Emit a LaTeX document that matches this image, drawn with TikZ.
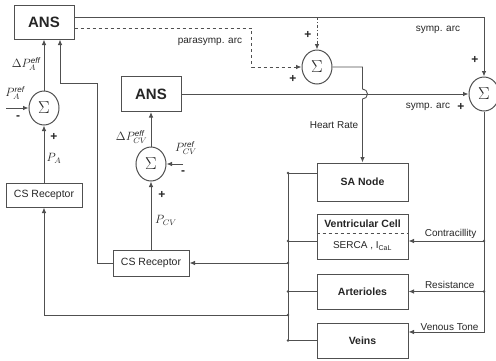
\documentclass[tikz,border=0pt]{standalone}
\usepackage{fontspec}
\setmainfont{Liberation Sans}
\usepackage{tikz}
\usetikzlibrary{positioning, arrows.meta, shapes.geometric, calc}
\definecolor{linegray}{RGB}{80,80,80}

\begin{document}
\begin{tikzpicture}[
  x=1pt, y=-1pt,
  every node/.style={font=\fontsize{10.5}{12}\selectfont, text=black!85},
  block/.style={draw=linegray, line width=1pt, fill=white, align=center, inner sep=0pt},
  bold/.style={font=\bfseries\fontsize{10.5}{12}\selectfont},
  sumnode/.style={draw=linegray, line width=1pt, ellipse, fill=white,
    minimum width=30pt, minimum height=34pt, inner sep=0pt, font=\fontsize{18}{18}\selectfont},
  conn/.style={draw=linegray, line width=0.9pt},
  arrow/.style={conn, -{Latex[length=5.5pt,width=4.5pt]}},
  junc/.style={circle, fill=linegray, inner sep=0pt, minimum size=2.8pt},
  sign/.style={font=\bfseries\fontsize{12}{12}\selectfont, inner sep=0pt},
  lbl/.style={font=\fontsize{10}{12}\selectfont},
  mlbl/.style={font=\fontsize{11.5}{12}\selectfont, inner sep=0.5pt},
]
\useasboundingbox (0,0) rectangle (496,360);

% ANS blocks
\node[block, minimum width=60pt, minimum height=34pt, font=\bfseries\fontsize{15}{16}\selectfont] (ans1) at (44,22) {ANS};
\node[block, minimum width=60pt, minimum height=35pt, font=\bfseries\fontsize{15}{16}\selectfont] (ans2) at (151,94) {ANS};

% Summing junctions
\node[sumnode] (sumA) at (44,108) {$\Sigma$};
\node[sumnode] (sumCV) at (151,164) {$\Sigma$};
\node[sumnode] (sumHR) at (317,67) {$\Sigma$};
\node[sumnode] (sumS) at (484,94) {$\Sigma$};

% Receptors
\node[block, minimum width=76pt, minimum height=24pt] (csr1) at (44,195) {CS Receptor};
\node[block, minimum width=76pt, minimum height=26pt] (csr2) at (151,263) {CS Receptor};

% Effector blocks
\node[block, bold, minimum width=91pt, minimum height=38pt] (sa) at (362.5,182) {SA Node};
\node[block, minimum width=91pt, minimum height=45pt, below=12pt of sa] (vc) {};
\node[block, bold, minimum width=91pt, minimum height=35pt, below=14pt of vc] (art) {Arterioles};
\node[block, bold, minimum width=91pt, minimum height=35pt, below=13pt of art] (veins) {Veins};
\draw[conn, dashed] ([yshift=3.5pt]vc.west) -- ([yshift=3.5pt]vc.east);
\node[bold] at ([yshift=13pt]vc.center) {Ventricular Cell};
\node[font=\fontsize{10}{12}\selectfont] at ([yshift=-9.5pt]vc.center) {SERCA , I\textsubscript{CaL}};

% Coordinates
\coordinate (symTop) at ([yshift=5pt]ans1.east);
\coordinate (bus) at (288,0);
\coordinate (saIn) at ([yshift=9pt]sa.west);
\coordinate (vcIn) at ([yshift=-4.5pt]vc.west);
\coordinate (vcCtl) at ([yshift=-4.5pt]vc.east);
\coordinate (vnIn) at ([yshift=8.5pt]veins.east);
\coordinate (fbA) at (288,315);
\coordinate (fbB) at (97,83);
\coordinate (jmp) at (sa.north |- ans2.east);
\coordinate (pAref) at (6,108);
\coordinate (pCVref) at (183,164);

% Sympathetic / parasympathetic arcs
\draw[arrow] (symTop) -| (sumS.north);
\draw[arrow, dash dot] (sumHR.north |- symTop) -- (sumHR.north);
\draw[arrow, dashed] ([yshift=-6pt]ans1.east) -- ++(177,0) |- (sumHR.west);
\draw[arrow] (ans2.east) -- (sumS.west);
\draw[arrow] (sumHR.east) -- (sa.north |- sumHR.east) -- ([yshift=5pt]jmp)
  arc[start angle=90, end angle=-90, radius=5pt] -- (sa.north);

% Effector control lines
\draw[arrow] (sumS.south) |- (vnIn);
\draw[arrow] (sumS.south |- vcCtl) -- (vcCtl);
\draw[arrow] (sumS.south |- art.east) -- (art.east);
\node[junc] at (sumS.south |- vcCtl) {};
\node[junc] at (sumS.south |- art.east) {};

% Output bus
\draw[conn] (bus |- saIn) -- (bus |- veins.west);
\draw[conn] (bus |- saIn) -- (saIn);
\draw[conn] (bus |- vcIn) -- (vcIn);
\draw[conn] (bus |- art.west) -- (art.west);
\draw[conn] (bus |- veins.west) -- (veins.west);
\draw[arrow] (bus |- csr2.east) -- (csr2.east);
\draw[arrow] (fbA) -| (csr1.south);
\foreach \p in {saIn, vcIn, art.west, veins.west, csr2.east, fbA}
  \node[junc] at (bus |- \p) {};

% Baroreflex loops
\draw[arrow] (csr1.north) -- (sumA.south);
\draw[arrow] (sumA.north) -- (sumA.north |- ans1.south);
\draw[arrow] (pAref) -- (sumA.west);
\draw[arrow] (csr2.north) -- (sumCV.south);
\draw[arrow] (sumCV.north) -- (ans2.south);
\draw[arrow] (pCVref) -- (sumCV.east);
\draw[arrow] (csr2.west) -| (fbB) -| ([xshift=16pt]ans1.south);

% Labels
\node[lbl] at (438,30) {symp. arc};
\node[lbl] at (428,107) {symp. arc};
\node[lbl] at (210,42) {parasymp. arc};
\node[lbl] at (334,125) {Heart Rate};
\node[lbl, anchor=south east] at ([xshift=-4pt,yshift=-1pt]sumS.south |- vcCtl) {Contracillity};
\node[lbl, anchor=south east] at ([xshift=-6pt,yshift=-1pt]sumS.south |- art.east) {Resistance};
\node[lbl, anchor=south east] at ([xshift=-2pt,yshift=-2pt]vnIn -| sumS.south) {Venous Tone};
\node[mlbl, anchor=east] at (41,64) {$\Delta P_A^{\mathit{eff}}$};
\node[mlbl] at (15,93) {$P_A^{\mathit{ref}}$};
\node[mlbl, anchor=west] at (46,158) {$P_A$};
\node[mlbl, anchor=east] at (148,137) {$\Delta P_{CV}^{\mathit{eff}}$};
\node[mlbl] at (186,148) {$P_{CV}^{\mathit{ref}}$};
\node[mlbl] at (166,220) {$P_{CV}$};

% Signs
\node[sign] at (475,60) {+};
\node[sign] at (461,107) {+};
\node[sign] at (308,35) {+};
\node[sign] at (293,79) {+};
\node[sign] at (54,137) {+};
\node[sign] at (18,118) {-};
\node[sign] at (162,195) {+};
\node[sign] at (183,173) {-};

\end{tikzpicture}
\end{document}
